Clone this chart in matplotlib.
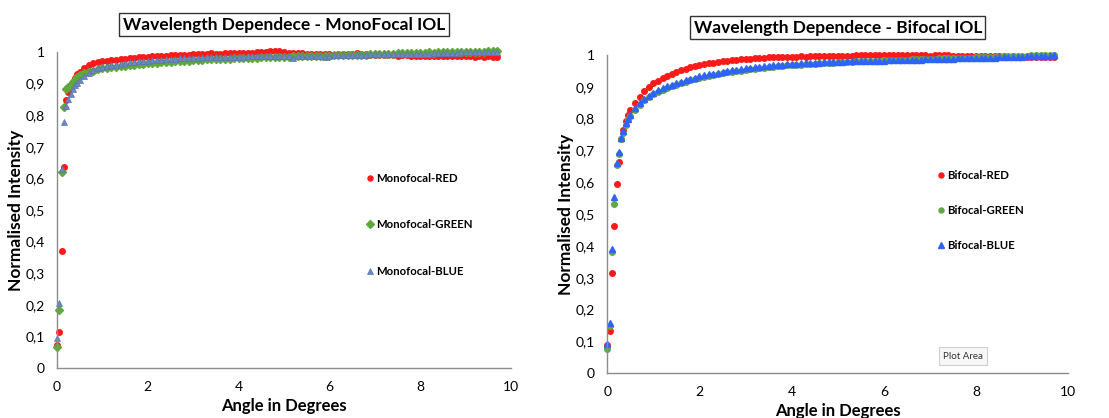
import matplotlib
matplotlib.use('Agg')
import matplotlib.pyplot as plt

plt.rcParams['font.family'] = ['Lato', 'DejaVu Sans']

# angle grid (degrees): fine steps near 0, then 0.1 steps
angle = [0.0, 0.05, 0.1, 0.15, 0.2, 0.25, 0.3, 0.35, 0.4, 0.45,
         0.5, 0.6, 0.7, 0.8, 0.9, 1.0,
         1.1, 1.2, 1.3, 1.4, 1.5, 1.6, 1.7, 1.8, 1.9, 2.0,
         2.1, 2.2, 2.3, 2.4, 2.5, 2.6, 2.7, 2.8, 2.9, 3.0,
         3.1, 3.2, 3.3, 3.4, 3.5, 3.6, 3.7, 3.8, 3.9, 4.0,
         4.1, 4.2, 4.3, 4.4, 4.5, 4.6, 4.7, 4.8, 4.9, 5.0,
         5.1, 5.2, 5.3, 5.4, 5.5, 5.6, 5.7, 5.8, 5.9, 6.0,
         6.1, 6.2, 6.3, 6.4, 6.5, 6.6, 6.7, 6.8, 6.9, 7.0,
         7.1, 7.2, 7.3, 7.4, 7.5, 7.6, 7.7, 7.8, 7.9, 8.0,
         8.1, 8.2, 8.3, 8.4, 8.5, 8.6, 8.7, 8.8, 8.9, 9.0,
         9.1, 9.2, 9.3, 9.4, 9.5, 9.6, 9.7]

mono_red = [0.074, 0.114, 0.370, 0.637, 0.848, 0.874, 0.889, 0.905, 0.918, 0.929,
            0.938, 0.950, 0.959, 0.964, 0.967, 0.970,
            0.972, 0.974, 0.976, 0.977, 0.979, 0.980, 0.982, 0.983, 0.984, 0.985,
            0.986, 0.986, 0.988, 0.987, 0.989, 0.990, 0.991, 0.990, 0.992, 0.993,
            0.993, 0.994, 0.994, 0.996, 0.995, 0.994, 0.996, 0.997, 0.996, 0.997,
            0.998, 0.997, 0.998, 0.999, 1.000, 1.001, 1.002, 1.004, 1.002, 0.999,
            0.998, 0.997, 0.996, 0.997, 0.995, 0.994, 0.995, 0.993, 0.994, 0.993,
            0.992, 0.993, 0.994, 0.993, 0.995, 0.996, 0.994, 0.993, 0.991, 0.990,
            0.990, 0.991, 0.989, 0.990, 0.988, 0.989, 0.990, 0.988, 0.987, 0.986,
            0.987, 0.986, 0.988, 0.987, 0.986, 0.987, 0.988, 0.986, 0.987, 0.986,
            0.986, 0.985, 0.987, 0.985, 0.986, 0.985, 0.985]

mono_green = [0.067, 0.185, 0.619, 0.825, 0.882, 0.890, 0.897, 0.906, 0.912, 0.920,
              0.927, 0.932, 0.938, 0.941, 0.945, 0.948,
              0.950, 0.952, 0.954, 0.955, 0.957, 0.959, 0.960, 0.961, 0.962, 0.964,
              0.965, 0.966, 0.967, 0.968, 0.969, 0.970, 0.971, 0.972, 0.973, 0.975,
              0.975, 0.976, 0.977, 0.977, 0.978, 0.978, 0.979, 0.979, 0.980, 0.980,
              0.981, 0.981, 0.982, 0.982, 0.983, 0.983, 0.984, 0.984, 0.985, 0.985,
              0.985, 0.986, 0.986, 0.987, 0.987, 0.987, 0.988, 0.987, 0.988, 0.988,
              0.989, 0.989, 0.990, 0.990, 0.991, 0.991, 0.992, 0.992, 0.993, 0.993,
              0.994, 0.994, 0.995, 0.995, 0.996, 0.996, 0.996, 0.997, 0.997, 0.998,
              0.998, 0.999, 0.998, 0.999, 0.999, 1.000, 0.999, 1.000, 0.999, 0.999,
              1.000, 1.001, 1.000, 1.001, 1.002, 1.002, 1.003]

mono_blue = [0.095, 0.206, 0.631, 0.780, 0.829, 0.850, 0.867, 0.882, 0.895, 0.903,
             0.912, 0.924, 0.934, 0.943, 0.949, 0.954,
             0.956, 0.958, 0.960, 0.962, 0.966, 0.967, 0.969, 0.970, 0.971, 0.973,
             0.974, 0.975, 0.976, 0.977, 0.978, 0.979, 0.980, 0.980, 0.981, 0.982,
             0.982, 0.983, 0.983, 0.984, 0.984, 0.984, 0.985, 0.985, 0.985, 0.985,
             0.985, 0.986, 0.986, 0.986, 0.987, 0.986, 0.987, 0.987, 0.987, 0.987,
             0.987, 0.982, 0.988, 0.987, 0.988, 0.988, 0.988, 0.988, 0.984, 0.988,
             0.989, 0.989, 0.990, 0.990, 0.991, 0.991, 0.992, 0.992, 0.993, 0.994,
             0.994, 0.994, 0.994, 0.994, 0.994, 0.994, 0.994, 0.994, 0.994, 0.993,
             0.995, 0.995, 0.996, 0.996, 0.997, 0.997, 0.998, 0.998, 0.999, 0.999,
             0.999, 1.000, 0.999, 1.000, 1.000, 1.000, 1.000]

bi_red = [0.090, 0.133, 0.316, 0.463, 0.594, 0.665, 0.735, 0.764, 0.794, 0.812,
          0.827, 0.850, 0.869, 0.888, 0.900, 0.911,
          0.919, 0.927, 0.933, 0.940, 0.948, 0.952, 0.957, 0.961, 0.965, 0.969,
          0.971, 0.974, 0.976, 0.978, 0.981, 0.982, 0.984, 0.985, 0.986, 0.987,
          0.988, 0.990, 0.991, 0.992, 0.993, 0.993, 0.994, 0.995, 0.994, 0.995,
          0.995, 0.996, 0.995, 0.996, 0.996, 0.997, 0.996, 0.997, 0.997, 0.997,
          0.998, 0.997, 0.998, 0.999, 1.000, 0.999, 1.000, 1.001, 1.000, 1.000,
          0.999, 1.000, 0.999, 1.000, 1.000, 0.999, 1.000, 0.999, 0.999, 0.998,
          0.999, 1.000, 1.000, 0.999, 0.998, 0.997, 0.997, 0.998, 0.997, 0.997,
          0.997, 0.996, 0.996, 0.997, 0.996, 0.996, 0.995, 0.996, 0.995, 0.995,
          0.995, 0.994, 0.995, 0.994, 0.995, 0.994, 0.995]

bi_green = [0.076, 0.150, 0.380, 0.531, 0.654, 0.690, 0.735, 0.755, 0.780, 0.800,
            0.807, 0.828, 0.844, 0.857, 0.868, 0.878,
            0.885, 0.891, 0.897, 0.902, 0.907, 0.912, 0.916, 0.920, 0.924, 0.928,
            0.931, 0.934, 0.937, 0.940, 0.943, 0.945, 0.947, 0.949, 0.951, 0.953,
            0.955, 0.957, 0.958, 0.960, 0.962, 0.963, 0.964, 0.966, 0.967, 0.968,
            0.969, 0.970, 0.971, 0.972, 0.973, 0.974, 0.975, 0.975, 0.976, 0.977,
            0.978, 0.978, 0.979, 0.980, 0.980, 0.981, 0.981, 0.982, 0.982, 0.983,
            0.983, 0.984, 0.984, 0.985, 0.985, 0.986, 0.986, 0.987, 0.987, 0.988,
            0.988, 0.989, 0.989, 0.990, 0.990, 0.991, 0.991, 0.992, 0.992, 0.993,
            0.993, 0.994, 0.994, 0.995, 0.995, 0.996, 0.996, 0.997, 0.997, 0.998,
            0.998, 0.999, 0.999, 1.000, 1.000, 1.001, 1.001]

bi_blue = [0.091, 0.157, 0.390, 0.553, 0.660, 0.696, 0.740, 0.761, 0.785, 0.800,
           0.812, 0.832, 0.848, 0.861, 0.872, 0.882,
           0.889, 0.895, 0.901, 0.906, 0.911, 0.916, 0.920, 0.925, 0.929, 0.934,
           0.936, 0.939, 0.941, 0.944, 0.948, 0.950, 0.952, 0.954, 0.956, 0.958,
           0.959, 0.961, 0.962, 0.964, 0.966, 0.967, 0.968, 0.970, 0.971, 0.972,
           0.973, 0.974, 0.974, 0.975, 0.976, 0.976, 0.977, 0.978, 0.978, 0.979,
           0.979, 0.980, 0.980, 0.981, 0.981, 0.981, 0.982, 0.982, 0.982, 0.982,
           0.983, 0.983, 0.984, 0.984, 0.984, 0.985, 0.985, 0.985, 0.986, 0.986,
           0.987, 0.987, 0.988, 0.988, 0.988, 0.989, 0.989, 0.990, 0.990, 0.990,
           0.991, 0.991, 0.992, 0.992, 0.993, 0.993, 0.994, 0.994, 0.995, 0.995,
           0.996, 0.996, 0.997, 0.997, 0.998, 0.998, 0.999]

x_ticks = [0, 2, 4, 6, 8, 10]
y_ticks = [0, 0.1, 0.2, 0.3, 0.4, 0.5, 0.6, 0.7, 0.8, 0.9, 1.0]
y_ticklabels = ['0', '0,1', '0,2', '0,3', '0,4', '0,5', '0,6', '0,7', '0,8', '0,9', '1']

RED = '#ff1a1a'
MONO_GREEN = '#5fa83a'
MONO_BLUE = '#6c88c2'
BI_GREEN = '#62a844'
BI_BLUE = '#2f63ff'

fig = plt.figure(figsize=(11.09, 4.18), dpi=100)
ax1 = fig.add_axes([0.0514, 0.1196, 0.4094, 0.7560])
ax2 = fig.add_axes([0.5476, 0.1070, 0.4157, 0.7615])


def style_axes(ax):
    ax.set_xlim(0, 10)
    ax.set_ylim(0, 1.0)
    for s in ['top', 'right']:
        ax.spines[s].set_visible(False)
    for s in ['left', 'bottom']:
        ax.spines[s].set_color('#8c8c8c')
        ax.spines[s].set_linewidth(1.0)
    ax.set_xticks(x_ticks)
    ax.set_xticklabels([str(t) for t in x_ticks])
    ax.set_yticks(y_ticks)
    ax.set_yticklabels(y_ticklabels)
    ax.tick_params(length=0, labelsize=10, colors='black', pad=9)
    ax.set_xlabel('Angle in Degrees', fontsize=12, fontweight='bold', labelpad=4)
    ax.set_ylabel('Normalised Intensity', fontsize=12.5, fontweight='bold', labelpad=1)


style_axes(ax1)
style_axes(ax2)

# monofocal
ax1.plot(angle, mono_red, 'o', ms=4.0, color=RED, mec=RED, clip_on=False, label='Monofocal-RED')
ax1.plot(angle, mono_green, 'D', ms=4.0, color=MONO_GREEN, mec=MONO_GREEN, clip_on=False, label='Monofocal-GREEN')
ax1.plot(angle, mono_blue, '^', ms=4.2, color=MONO_BLUE, mec='#5a74ad', mew=0.5, clip_on=False, label='Monofocal-BLUE')

# bifocal
ax2.plot(angle, bi_red, 'o', ms=4.0, color=RED, mec=RED, clip_on=False, label='Bifocal-RED')
ax2.plot(angle, bi_green, 'o', ms=4.0, color=BI_GREEN, mec=BI_GREEN, clip_on=False, label='Bifocal-GREEN')
ax2.plot(angle, bi_blue, '^', ms=4.6, color=BI_BLUE, mec=BI_BLUE, clip_on=False, label='Bifocal-BLUE')

ax1.set_title('Wavelength Dependece - MonoFocal IOL', fontsize=12.5, fontweight='bold', pad=16,
              bbox=dict(boxstyle='square,pad=0.2', fc='white', ec='#333333', lw=1.0))
ax2.set_title('Wavelength Dependece - Bifocal IOL', fontsize=12.5, fontweight='bold', pad=16,
              bbox=dict(boxstyle='square,pad=0.2', fc='white', ec='#333333', lw=1.0))

leg1 = fig.legend(handles=ax1.get_lines(), loc='center left', bbox_to_anchor=(0.331, 0.462),
                  frameon=False, fontsize=8.2, handlelength=0.5, handletextpad=0.3,
                  labelspacing=3.1, borderpad=0, borderaxespad=0, markerscale=0.9)
for t in leg1.get_texts():
    t.set_fontweight('bold')

leg2 = fig.legend(handles=ax2.get_lines(), loc='center left', bbox_to_anchor=(0.846, 0.497),
                  frameon=False, fontsize=8.2, handlelength=0.5, handletextpad=0.3,
                  labelspacing=2.1, borderpad=0, borderaxespad=0, markerscale=0.9)
for t in leg2.get_texts():
    t.set_fontweight('bold')

# "Plot Area" hover tip captured in the screenshot
fig.text(0.8685, 0.148, 'Plot Area', fontsize=7, ha='center', va='center', color='#333333',
         bbox=dict(boxstyle='square,pad=0.45', fc='#f7f7f7', ec='#cfcfcf', lw=0.8))

fig.savefig('out.png', dpi=100)
